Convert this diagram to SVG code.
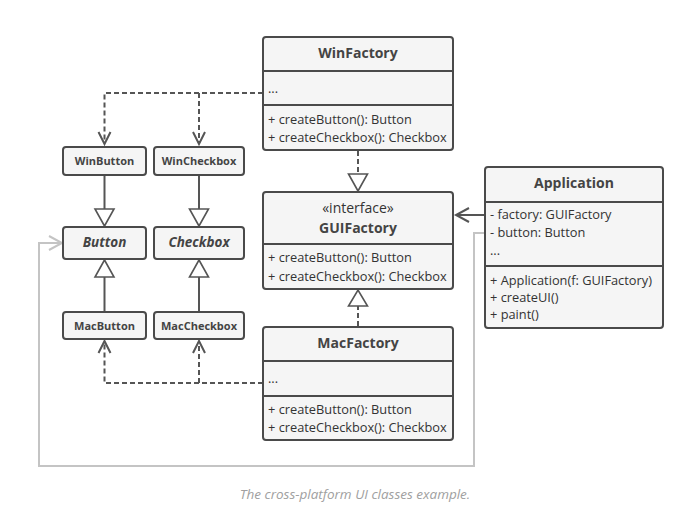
<svg xmlns="http://www.w3.org/2000/svg" width="700" height="512" viewBox="0 0 700 512">
<defs>
<style>
.box{fill:#f5f5f5;stroke:#4a4a4a;stroke-width:2}
.div{stroke:#4a4a4a;stroke-width:2;fill:none}
.t{font-family:"Open Sans","Noto Sans",sans-serif;font-size:12.8px;fill:#333}
.i{font-family:"Open Sans","Noto Sans",sans-serif;font-size:14px;fill:#333;text-anchor:middle}
.b{font-family:"Open Sans","Noto Sans",sans-serif;font-size:14px;font-weight:bold;fill:#444;text-anchor:middle}
.s{font-family:"Open Sans","Noto Sans",sans-serif;font-size:11px;font-weight:bold;fill:#444;text-anchor:middle}
.bi{font-family:"Open Sans","Noto Sans",sans-serif;font-size:13.5px;font-weight:bold;font-style:italic;fill:#444;text-anchor:middle}
.c{font-family:"Open Sans","Noto Sans",sans-serif;font-size:13.5px;font-style:italic;fill:#a0a0a0;text-anchor:middle}
.dash{stroke:#555;stroke-width:2;fill:none;stroke-dasharray:5,3}
.sol{stroke:#555;stroke-width:2;fill:none}
.grey{stroke:#c4c4c4;stroke-width:2;fill:none}
.tri{fill:#fff;stroke:#555;stroke-width:1.6}
</style>
</defs>

<g id="connectors">
<path class="dash" d="M263,93 H104.5 V143"/>
<path class="dash" d="M199,93 V143"/>
<path class="sol" d="M98.5,132 L104.5,144 L110.5,132"/>
<path class="sol" d="M193,132 L199,144 L205,132"/>
<path class="dash" d="M263,383 H104.5 V342"/>
<path class="dash" d="M199,383 V342"/>
<path class="sol" d="M98.5,353 L104.5,341 L110.5,353"/>
<path class="sol" d="M193,353 L199,341 L205,353"/>
<path class="sol" d="M104.5,175 V209"/>
<path class="sol" d="M199,175 V209"/>
<polygon class="tri" points="95,209 114,209 104.5,226"/>
<polygon class="tri" points="189.5,209 208.5,209 199,226"/>
<path class="sol" d="M104.5,312 V277"/>
<path class="sol" d="M199,312 V277"/>
<polygon class="tri" points="95,277 114,277 104.5,260"/>
<polygon class="tri" points="189.5,277 208.5,277 199,260"/>
<path class="dash" d="M358,151 V174"/>
<polygon class="tri" points="348.5,174 367.5,174 358,191"/>
<path class="dash" d="M358,326 V306"/>
<polygon class="tri" points="348.5,306 367.5,306 358,290"/>
<path class="sol" d="M485,215 H456"/>
<path class="sol" d="M469,208 L456,215 L469,222"/>
<path class="grey" d="M485,233 H474 V466 H39 V243 H62"/>
<path class="grey" d="M49,236 L62,243 L49,250"/>
</g>

<g id="WinFactory">
<rect class="box" x="263" y="37" width="190" height="113" rx="3"/>
<path class="div" d="M263,71 H453 M263,105 H453"/>
<text class="b" x="358" y="58">WinFactory</text>
<text class="t" x="268" y="93">...</text>
<text class="t" x="268" y="124">+ createButton(): Button</text>
<text class="t" x="268" y="142">+ createCheckbox(): Checkbox</text>
</g>

<g id="GUIFactory">
<rect class="box" x="263" y="192" width="190" height="97" rx="3"/>
<path class="div" d="M263,244 H453"/>
<text class="i" x="358" y="213">«interface»</text>
<text class="b" x="358" y="233">GUIFactory</text>
<text class="t" x="268" y="262">+ createButton(): Button</text>
<text class="t" x="268" y="281">+ createCheckbox(): Checkbox</text>
</g>

<g id="MacFactory">
<rect class="box" x="263" y="327" width="190" height="113" rx="3"/>
<path class="div" d="M263,361 H453 M263,396 H453"/>
<text class="b" x="358" y="348">MacFactory</text>
<text class="t" x="268" y="383">...</text>
<text class="t" x="268" y="414">+ createButton(): Button</text>
<text class="t" x="268" y="432">+ createCheckbox(): Checkbox</text>
</g>

<g id="Application">
<rect class="box" x="485" y="167" width="178" height="161" rx="3"/>
<path class="div" d="M485,202 H663 M485,266 H663"/>
<text class="b" x="574" y="188">Application</text>
<text class="t" x="490" y="219">- factory: GUIFactory</text>
<text class="t" x="490" y="237">- button: Button</text>
<text class="t" x="490" y="255">...</text>
<text class="t" x="490" y="285">+ Application(f: GUIFactory)</text>
<text class="t" x="490" y="302">+ createUI()</text>
<text class="t" x="490" y="319">+ paint()</text>
</g>

<g id="WinButton">
<rect class="box" x="63" y="147" width="83" height="28" rx="3"/>
<text class="s" x="104.5" y="165">WinButton</text>
</g>
<g id="WinCheckbox">
<rect class="box" x="154" y="147" width="90" height="28" rx="3"/>
<text class="s" x="199" y="165">WinCheckbox</text>
</g>
<g id="Button">
<rect class="box" x="63" y="227" width="83" height="32" rx="3"/>
<text class="bi" x="104.5" y="247">Button</text>
</g>
<g id="Checkbox">
<rect class="box" x="154" y="227" width="90" height="32" rx="3"/>
<text class="bi" x="199" y="247">Checkbox</text>
</g>
<g id="MacButton">
<rect class="box" x="63" y="312" width="83" height="27" rx="3"/>
<text class="s" x="104.5" y="330">MacButton</text>
</g>
<g id="MacCheckbox">
<rect class="box" x="154" y="312" width="90" height="27" rx="3"/>
<text class="s" x="199" y="330">MacCheckbox</text>
</g>

<text class="c" x="355" y="499">The cross-platform UI classes example.</text>
</svg>
